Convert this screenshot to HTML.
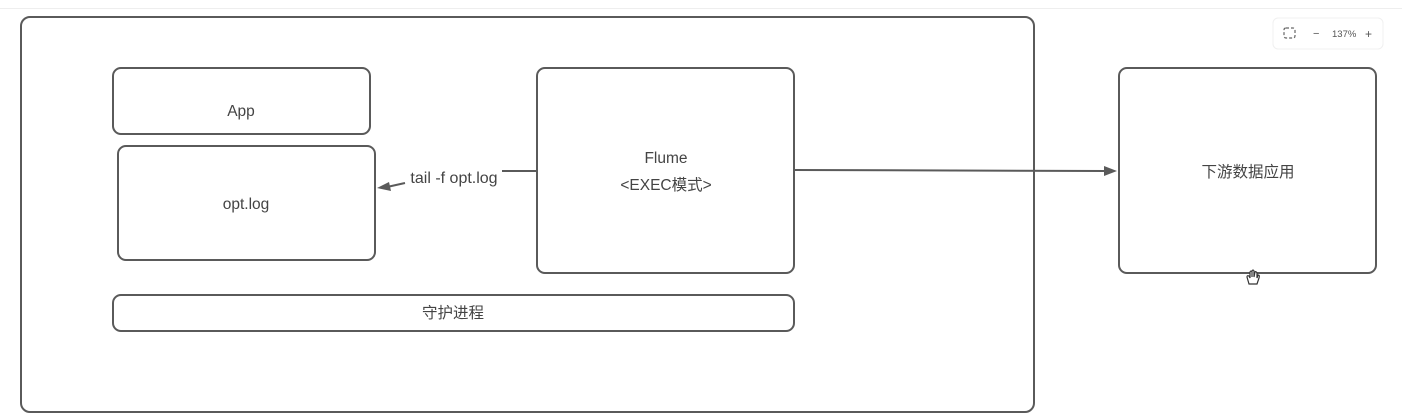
<!DOCTYPE html>
<html><head><meta charset="utf-8"><style>
html,body{margin:0;padding:0;background:#fff;width:1402px;height:420px;overflow:hidden}
svg{display:block}
text{font-family:"Liberation Sans","Noto Sans CJK SC",sans-serif;fill:#444}
</style></head><body>
<svg width="1402" height="420" viewBox="0 0 1402 420">
<line x1="0" y1="8.5" x2="1402" y2="8.5" stroke="#eee" stroke-width="1"/>
<g fill="none" stroke="#5a5a5a" stroke-width="2">
<rect x="21" y="17" width="1013" height="395" rx="9"/>
<rect x="113" y="68" width="257" height="66" rx="8"/>
<rect x="118" y="146" width="257" height="114" rx="8"/>
<rect x="537" y="68" width="257" height="205" rx="8"/>
<rect x="113" y="295" width="681" height="36" rx="8"/>
<rect x="1119" y="68" width="257" height="205" rx="8"/>
<polyline points="537,171 502,171"/>
<line x1="794" y1="170" x2="1106" y2="171"/>
<line x1="405" y1="183" x2="387" y2="187"/>
</g>
<polygon points="1117,171 1104,166 1104,176" fill="#5a5a5a"/>
<polygon points="377,188 389,182 391,191" fill="#5a5a5a"/>
<text x="241" y="116" font-size="15.5" text-anchor="middle">App</text>
<text x="246" y="209" font-size="15.5" text-anchor="middle">opt.log</text>
<text x="454" y="183" font-size="16" text-anchor="middle">tail -f opt.log</text>
<text x="666" y="163" font-size="15.5" text-anchor="middle">Flume</text>
<text x="666" y="190" font-size="15.5" text-anchor="middle">&lt;EXEC模式&gt;</text>
<text x="453" y="318" font-size="15.5" text-anchor="middle">守护进程</text>
<text x="1248" y="177" font-size="15.5" text-anchor="middle">下游数据应用</text>
<rect x="1273" y="18" width="110" height="31" rx="5" fill="#fff" stroke="#f0f0f0"/>
<rect x="1284" y="28" width="11" height="10" rx="2" fill="none" stroke="#666" stroke-width="1.2" stroke-dasharray="3 2"/>
<text x="1313" y="37" font-size="11" style="fill:#555">−</text>
<text x="1332" y="37" font-size="9.5" style="fill:#555">137%</text>
<text x="1365" y="38" font-size="12" style="fill:#555">+</text>
<g fill="#fff" stroke="#333" stroke-width="1.2">
<path d="M1249,284 L1247,277 Q1247,275 1249,276 L1250,278 L1250,272 Q1251,270 1252,272 L1252,277 L1252,271 Q1253,269 1254,271 L1254,277 L1255,272 Q1256,271 1257,273 L1257,278 L1258,275 Q1260,275 1259,278 L1257,284 Z"/>
</g>
</svg>
</body></html>
